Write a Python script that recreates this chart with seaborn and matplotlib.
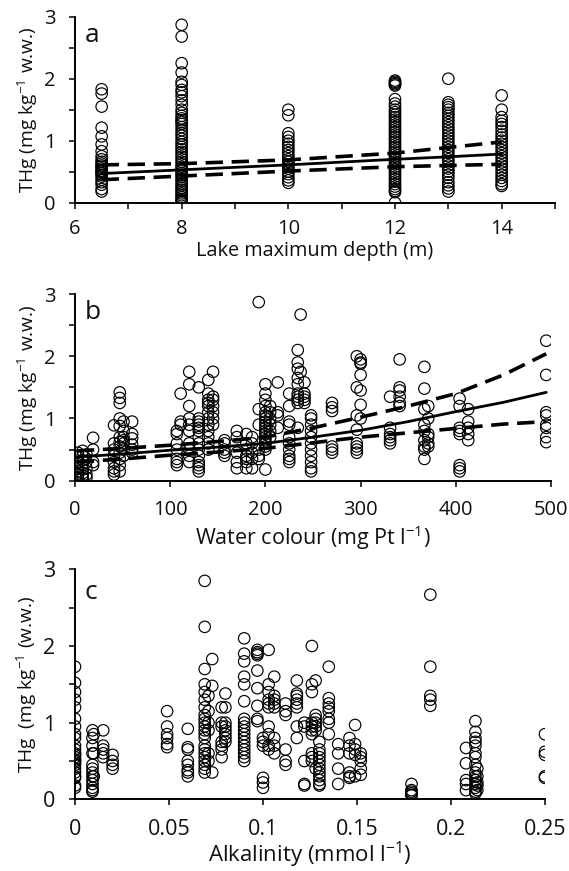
import pandas as pd
import numpy as np
import matplotlib
matplotlib.use('Agg')
import matplotlib.pyplot as plt
import seaborn as sns
from matplotlib.ticker import MultipleLocator

sns.set_theme(style='white')
plt.rcParams['font.family'] = ['Open Sans', 'DejaVu Sans']
plt.rcParams['mathtext.fontset'] = 'custom'
plt.rcParams['mathtext.rm'] = 'Open Sans'
plt.rcParams['mathtext.default'] = 'regular'

# ---- panel a: lake maximum depth (m) vs THg
depth_levels = [6.5, 8, 10, 12, 13, 14]
depth_thg = [
    [1.83, 1.76, 1.55, 1.21, 1.07, 0.94, 0.83, 0.75, 0.7, 0.66, 0.63, 0.6, 0.58, 0.55, 0.52,
     0.5, 0.48, 0.45, 0.42, 0.37, 0.33, 0.29, 0.22, 0.18],
    [2.87, 2.68, 2.25, 2.1, 1.95, 1.9, 1.82, 1.78, 1.72, 1.65, 1.58, 1.5, 1.45, 1.4, 1.36,
     1.33, 1.3, 1.27, 1.22, 1.17, 1.12, 1.08, 1.03, 0.98, 0.94, 0.9, 0.86, 0.82, 0.78, 0.74,
     0.7, 0.66, 0.62, 0.58, 0.55, 0.52, 0.48, 0.45, 0.42, 0.38, 0.35, 0.31, 0.28, 0.24, 0.21,
     0.18, 0.15, 0.12, 0.09, 0.06, 0.04, 0.02, 0.01],
    [1.5, 1.41, 1.12, 1.06, 1.0, 0.95, 0.9, 0.85, 0.8, 0.75, 0.7, 0.66, 0.62, 0.58, 0.55,
     0.5, 0.46, 0.41, 0.36, 0.32],
    [1.97, 1.95, 1.93, 1.91, 1.89, 1.67, 1.6, 1.55, 1.5, 1.46, 1.42, 1.38, 1.34, 1.3, 1.26,
     1.22, 1.18, 1.14, 1.1, 1.06, 1.02, 0.98, 0.94, 0.9, 0.86, 0.82, 0.78, 0.74, 0.7, 0.66,
     0.62, 0.58, 0.54, 0.5, 0.46, 0.42, 0.38, 0.34, 0.3, 0.26, 0.22, 0.19, 0.17, 0.0],
    [2.0, 1.62, 1.58, 1.54, 1.5, 1.45, 1.4, 1.35, 1.3, 1.25, 1.2, 1.15, 1.1, 1.05, 1.0,
     0.95, 0.9, 0.85, 0.8, 0.75, 0.7, 0.65, 0.6, 0.55, 0.5, 0.45, 0.4, 0.33, 0.28, 0.23, 0.18],
    [1.73, 1.5, 1.38, 1.32, 1.27, 1.22, 1.16, 1.1, 1.05, 1.0, 0.95, 0.9, 0.85, 0.8, 0.75,
     0.7, 0.65, 0.6, 0.55, 0.5, 0.45, 0.4, 0.35, 0.3, 0.27],
]
depth_fit_x = [6.5, 8, 10, 12, 13, 14]
depth_fit = [0.47, 0.53, 0.61, 0.70, 0.74, 0.785]
depth_upper = [0.61, 0.63, 0.69, 0.80, 0.89, 0.98]
depth_lower = [0.37, 0.43, 0.51, 0.58, 0.60, 0.62]

# ---- panel b: water colour (mg Pt l-1) vs THg
colour_levels = [3, 8, 12, 19, 41, 47, 51, 60, 107, 111, 120, 130, 140, 145, 157, 170,
                 180, 186, 193, 200, 205, 213, 225, 234, 237, 241, 248, 270, 296, 300,
                 331, 341, 367, 371, 404, 413, 495]
colour_thg = [
    [0.45, 0.38, 0.3, 0.22, 0.15, 0.1, 0.05],
    [0.48, 0.4, 0.33, 0.25, 0.18, 0.12, 0.08, 0.04],
    [0.42, 0.3, 0.2, 0.1, 0.05],
    [0.69, 0.5, 0.3, 0.25],
    [0.89, 0.6, 0.5, 0.4, 0.3, 0.2, 0.15, 0.1],
    [1.42, 1.33, 1.25, 1.0, 0.88, 0.7, 0.62, 0.55, 0.45, 0.35, 0.25, 0.15],
    [0.95, 0.8, 0.7, 0.65, 0.6, 0.5, 0.4],
    [0.95, 0.75, 0.68, 0.58, 0.5, 0.45],
    [0.8, 0.75, 0.6, 0.5, 0.35, 0.3, 0.25],
    [1.4, 0.95, 0.9],
    [1.75, 1.55, 1.2, 1.0, 0.9, 0.8, 0.6, 0.5, 0.4, 0.3],
    [1.5, 1.0, 0.95, 0.9, 0.85, 0.8, 0.7, 0.6, 0.5, 0.4, 0.3, 0.25, 0.2, 0.15],
    [1.62, 1.4, 1.3, 1.25, 1.2, 1.1, 1.0, 0.9, 0.8, 0.7, 0.6, 0.5],
    [1.75, 1.35, 1.3, 1.2, 1.1, 1.0, 0.9],
    [0.65, 0.6, 0.5, 0.45, 0.4],
    [0.8, 0.7, 0.45, 0.3, 0.2],
    [0.75, 0.6, 0.5, 0.4, 0.35, 0.3, 0.2],
    [0.7, 0.6, 0.45, 0.35, 0.2],
    [2.87, 1.15, 0.9, 0.5, 0.4, 0.35],
    [1.55, 1.4, 1.3, 1.2, 1.1, 1.05, 1.0, 0.95, 0.9, 0.85, 0.8, 0.75, 0.7, 0.65, 0.6,
     0.55, 0.5, 0.18],
    [1.2, 1.1, 1.0, 0.9, 0.8, 0.7],
    [1.58, 1.1, 1.05, 0.85],
    [1.4, 1.2, 0.95, 0.9, 0.7, 0.6, 0.5, 0.4, 0.35, 0.3],
    [2.1, 1.9, 1.8, 1.65, 1.55, 1.4, 1.35, 1.3, 1.25, 0.85],
    [2.67, 1.75],
    [1.58, 1.4, 1.35, 1.3, 1.25],
    [1.05, 1.0, 0.9, 0.8, 0.7, 0.6, 0.5, 0.4, 0.3, 0.2, 0.15],
    [1.25, 1.18, 1.12, 0.55, 0.5, 0.45],
    [2.0, 1.5, 1.05, 0.82, 0.6, 0.55, 0.5, 0.45],
    [1.95, 1.9, 1.88, 1.7, 1.45, 1.22, 1.0],
    [1.35, 0.85, 0.75, 0.7, 0.65, 0.6],
    [1.95, 1.5, 1.45, 1.35, 1.25, 1.2],
    [1.83, 1.48, 1.15, 0.9, 0.8, 0.65, 0.55, 0.5, 0.35],
    [1.2, 1.0, 0.75, 0.7, 0.6, 0.55],
    [1.32, 1.2, 0.85, 0.8, 0.75, 0.25, 0.2, 0.15],
    [1.15, 0.95, 0.85, 0.75, 0.65],
    [2.25, 1.7, 1.1, 1.05, 0.9, 0.85, 0.7, 0.62],
]
colour_fit_x = [2, 50, 100, 150, 200, 250, 300, 350, 400, 450, 495]
colour_fit = [0.38, 0.43, 0.49, 0.54, 0.6, 0.7, 0.81, 0.95, 1.11, 1.26, 1.42]
colour_upper = [0.48, 0.52, 0.57, 0.63, 0.7, 0.85, 1.02, 1.2, 1.4, 1.7, 2.04]
colour_lower = [0.3, 0.35, 0.41, 0.46, 0.52, 0.61, 0.7, 0.77, 0.84, 0.91, 0.95]

# ---- panel c: alkalinity (mmol l-1) vs THg
alk_levels = [0.0, 0.0093, 0.01, 0.015, 0.02, 0.049, 0.06, 0.069, 0.071, 0.073, 0.078,
              0.08, 0.09, 0.097, 0.1, 0.103, 0.106, 0.112, 0.118, 0.122, 0.126, 0.128,
              0.13, 0.135, 0.14, 0.146, 0.149, 0.152, 0.179, 0.189, 0.208, 0.213, 0.214, 0.25]
alk_thg = [
    [1.73, 1.52, 1.4, 1.3, 1.2, 1.05, 0.95, 0.85, 0.8, 0.7, 0.65, 0.6, 0.58, 0.55, 0.52,
     0.5, 0.48, 0.45, 0.4, 0.35, 0.3, 0.28, 0.18, 0.15],
    [0.9, 0.8, 0.7, 0.6, 0.45, 0.4, 0.35, 0.3, 0.25, 0.2, 0.15, 0.12, 0.1],
    [0.85, 0.6, 0.3],
    [0.9, 0.7, 0.65, 0.6, 0.55],
    [0.58, 0.5, 0.45, 0.4],
    [1.15, 0.95, 0.85, 0.8, 0.72, 0.68],
    [0.92, 0.68, 0.65, 0.5, 0.45, 0.38, 0.35, 0.3],
    [2.85, 2.25, 1.7, 1.5, 1.4, 1.3, 1.2, 1.1, 1.05, 1.0, 0.95, 0.9, 0.85, 0.8, 0.7, 0.65,
     0.6, 0.55, 0.5, 0.45, 0.4, 0.35],
    [1.35, 1.15, 1.0, 0.9, 0.6, 0.5],
    [1.83, 1.48, 0.35],
    [1.2, 1.0, 0.95, 0.75, 0.7, 0.65, 0.55],
    [1.38, 1.2, 1.0, 0.95, 0.9, 0.85, 0.8, 0.75],
    [2.1, 1.9, 1.8, 1.6, 1.5, 1.28, 1.05, 1.0, 0.95, 0.9, 0.85, 0.8, 0.75, 0.7, 0.65, 0.6,
     0.55, 0.5],
    [1.95, 1.92, 1.9, 1.88, 1.68, 1.45, 1.22, 1.05, 1.02],
    [0.8, 0.75, 0.7, 0.28, 0.22, 0.15],
    [1.95, 1.5, 1.4, 1.3, 1.25, 1.2, 0.95, 0.85, 0.7, 0.65],
    [1.6, 1.35, 1.3, 1.25, 1.2, 0.8, 0.7, 0.6],
    [1.25, 1.15, 1.1, 0.65, 0.5, 0.45],
    [1.55, 1.38, 1.35, 1.3, 1.25, 1.2, 0.95, 0.8],
    [1.0, 0.95, 0.5, 0.2, 0.18],
    [2.0, 1.5, 1.4, 1.0, 0.95, 0.9, 0.85, 0.6, 0.55, 0.5],
    [1.55, 1.1, 1.05, 1.0, 0.95, 0.9, 0.4],
    [0.75, 0.65, 0.6, 0.55, 0.5, 0.45, 0.4, 0.35, 0.3, 0.25, 0.2, 0.18],
    [1.73, 1.32, 1.25, 1.2, 1.15, 1.05, 1.0, 0.85],
    [0.72, 0.6, 0.4, 0.2],
    [0.8, 0.7, 0.6, 0.35, 0.3, 0.28],
    [0.97, 0.72, 0.65, 0.58, 0.3],
    [0.6, 0.55, 0.5, 0.4, 0.32],
    [0.2, 0.12, 0.1, 0.08, 0.06, 0.05],
    [2.67, 1.73, 1.35, 1.3, 1.22],
    [0.67, 0.47, 0.25, 0.2, 0.12],
    [1.02, 0.88, 0.8, 0.75, 0.7, 0.6, 0.55, 0.45, 0.35, 0.3, 0.25, 0.2, 0.15, 0.1, 0.08],
    [0.4, 0.3, 0.22, 0.18, 0.12],
    [0.85, 0.62, 0.58, 0.3, 0.28],
]


def long_table(levels, groups):
    rows = [(lv, v) for lv, vals in zip(levels, groups) for v in vals]
    return pd.DataFrame(rows, columns=['x', 'thg'])


depth_df = long_table(depth_levels, depth_thg)
colour_df = long_table(colour_levels, colour_thg)
alk_df = long_table(alk_levels, alk_thg)

fig = plt.figure(figsize=(5.69, 8.71), dpi=100)
ax_a = fig.add_axes([0.1318, 0.7673, 0.8436, 0.2135])
ax_b = fig.add_axes([0.1318, 0.4481, 0.8366, 0.2143])
ax_c = fig.add_axes([0.1318, 0.0823, 0.826, 0.264])

scat = dict(marker='o', s=68, facecolors='none', edgecolor='black', linewidth=0.85,
            legend=False, zorder=3)
for ax, df in [(ax_a, depth_df), (ax_b, colour_df), (ax_c, alk_df)]:
    sns.scatterplot(data=df, x='x', y='thg', ax=ax, **scat)

dash = dict(color='black', lw=2.6, dashes=(4.8, 2.4), zorder=4)
ax_a.plot(depth_fit_x, depth_fit, color='black', lw=2.0, zorder=4)
ax_a.plot(depth_fit_x, depth_upper, **dash)
ax_a.plot(depth_fit_x, depth_lower, **dash)
ax_b.plot(colour_fit_x, colour_fit, color='black', lw=2.0, zorder=4)
ax_b.plot(colour_fit_x, colour_upper, **dash)
ax_b.plot(colour_fit_x, colour_lower, **dash)

ax_a.set_xlim(6, 15)
ax_a.xaxis.set_major_locator(MultipleLocator(2))
ax_a.xaxis.set_minor_locator(MultipleLocator(1))
ax_b.set_xlim(0, 500)
ax_b.xaxis.set_major_locator(MultipleLocator(100))
ax_c.set_xlim(0, 0.25)
ax_c.set_xticks([0, 0.05, 0.1, 0.15, 0.2, 0.25])
ax_c.set_xticklabels(['0', '0.05', '0.1', '0.15', '0.2', '0.25'])

ylab = 'THg (mg kg$^{-1}$ w.w.)'
labels = [
    (ax_a, 'Lake maximum depth (m)', 14.3, 1.5, ylab, 'a'),
    (ax_b, 'Water colour (mg Pt l$^{-1}$)', 15.5, 2, ylab, 'b'),
    (ax_c, 'Alkalinity (mmol l$^{-1}$)', 16, 0, 'THg  (mg kg$^{-1}$ (w.w.)', 'c'),
]
for ax, xl, xfs, xpad, yl, letter in labels:
    ax.set_ylim(0, 3)
    ax.yaxis.set_major_locator(MultipleLocator(1))
    ax.yaxis.set_minor_locator(MultipleLocator(0.5))
    for s in ['top', 'right']:
        ax.spines[s].set_visible(False)
    for s in ['left', 'bottom']:
        ax.spines[s].set_linewidth(1.4)
        ax.spines[s].set_color('black')
    ax.tick_params(which='both', direction='out', length=4.5, width=1.1, color='black',
                   left=True, bottom=True)
    ax.tick_params(which='major', labelsize=14.5, labelcolor='#111111')
    ax.tick_params(axis='y', which='major', pad=9.5)
    ax.tick_params(axis='x', which='major', pad=9.5)
    ax.set_xlabel(xl, fontsize=xfs, labelpad=xpad, color='#111111')
    ax.set_ylabel(yl, fontsize=13.8, labelpad=3, color='#111111')
    ax.text(0.02, 0.9, letter, transform=ax.transAxes, fontsize=19, va='center',
            ha='left', color='#111111')
    ax.set_facecolor('none')

ax_a.tick_params(axis='x', which='major', pad=7)
ax_c.tick_params(which='major', labelsize=15.5)

fig.savefig('out.png', dpi=100)
